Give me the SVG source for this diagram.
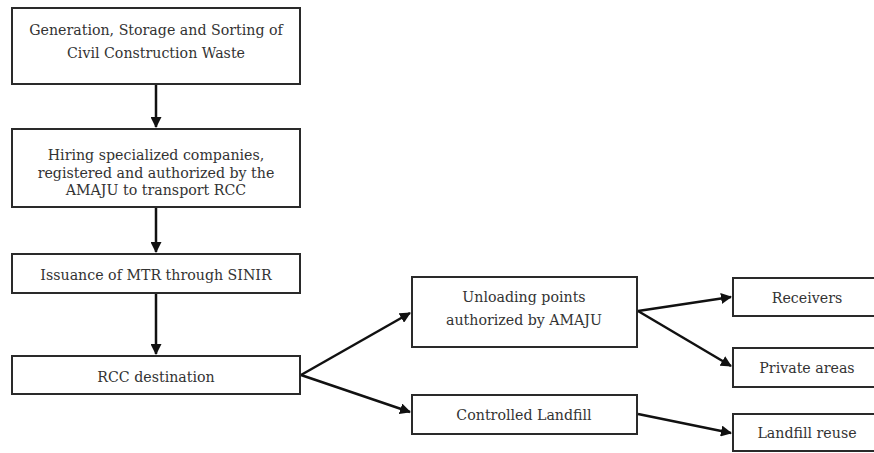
<svg xmlns="http://www.w3.org/2000/svg" width="874" height="453" viewBox="0 0 874 453">
<defs>
<marker id="ah" markerWidth="11" markerHeight="11" refX="10" refY="5.5" orient="auto" markerUnits="userSpaceOnUse"><path d="M0,0 L11,5.5 L0,11 z" fill="#111"/></marker>
<style>
rect{fill:#fff;stroke:#2a2a2a;stroke-width:2}
text{font-family:"DejaVu Serif","Liberation Serif",serif;font-size:14.2px;fill:#333;text-anchor:middle}
.c{stroke:#111;stroke-width:2.5;fill:none;marker-end:url(#ah)}
</style>
</defs>
<rect x="0" y="0" width="874" height="453" style="fill:#fff;stroke:none"/>
<g id="n1"><rect x="12" y="8" width="288" height="76"/><text x="156" y="35">Generation, Storage and Sorting of</text><text x="156" y="58">Civil Construction Waste</text></g>
<g id="n2"><rect x="12" y="129" width="288" height="78"/><text x="156" y="160">Hiring specialized companies,</text><text x="156" y="177.5">registered and authorized by the</text><text x="156" y="195">AMAJU to transport RCC</text></g>
<g id="n3"><rect x="12" y="254" width="288" height="39"/><text x="156" y="280">Issuance of MTR through SINIR</text></g>
<g id="n4"><rect x="12" y="356" width="288" height="38"/><text x="156" y="382">RCC destination</text></g>
<g id="n5"><rect x="412" y="277" width="225" height="70"/><text x="524" y="302">Unloading points</text><text x="524" y="325">authorized by AMAJU</text></g>
<g id="n6"><rect x="412" y="395" width="225" height="39"/><text x="524" y="420">Controlled Landfill</text></g>
<g id="n7"><rect x="733" y="278" width="148" height="38"/><text x="807" y="303">Receivers</text></g>
<g id="n8"><rect x="733" y="348" width="148" height="39"/><text x="807" y="373">Private areas</text></g>
<g id="n9"><rect x="733" y="414" width="148" height="37"/><text x="807" y="438">Landfill reuse</text></g>
<g id="connectors">
<line class="c" x1="156" y1="85" x2="156" y2="127"/>
<line class="c" x1="156" y1="208" x2="156" y2="252"/>
<line class="c" x1="156" y1="294" x2="156" y2="354"/>
<line class="c" x1="301" y1="375" x2="410" y2="313"/>
<line class="c" x1="301" y1="375" x2="410" y2="412"/>
<line class="c" x1="638" y1="311" x2="731" y2="297"/>
<line class="c" x1="638" y1="311" x2="731" y2="366"/>
<line class="c" x1="638" y1="414" x2="731" y2="433"/>
</g>
</svg>
